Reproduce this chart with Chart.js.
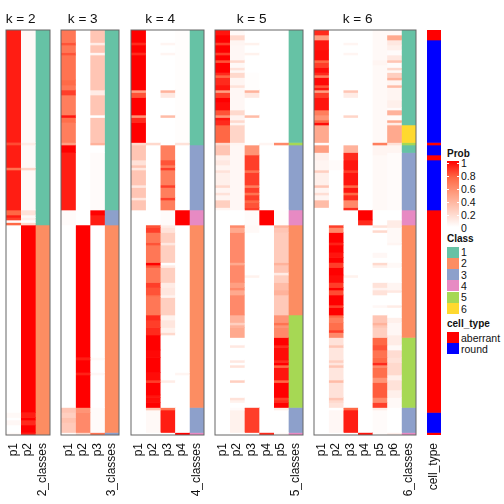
<!DOCTYPE html>
<html>
<head>
  <title>Class membership heatmaps</title>
  <script src="https://cdn.jsdelivr.net/npm/chart.js"></script>
  <style>
    body { margin: 0; background: #fff; font-family: 'Liberation Sans', Arial, sans-serif; }
    canvas { position: absolute; top: 0; }
    .lg { position: absolute; color: #111; font-size: 10.5px; line-height: 12px; white-space: nowrap; }
    .lg.head { font-weight: bold; font-size: 10px; }
    .sw { position: absolute; left: 447px; width: 12px; height: 11px; }
    #bar { position: absolute; left: 447px; top: 161px; width: 12px; height: 66px;
      background: linear-gradient(#ff0000, #ff6845 25%, #ff9f82 50%, #ffcfc0 75%, #ffffff); }
    .tk { position: absolute; height: 1px; width: 2px; background: #fff; }
  </style>
</head>
<body>
  <canvas id="c2"></canvas>
  <canvas id="c3"></canvas>
  <canvas id="c4"></canvas>
  <canvas id="c5"></canvas>
  <canvas id="c6"></canvas>
  <canvas id="c7"></canvas>
  <div id="legend"></div>

  <script>
    // every column is a list of [first row, value]; a run lasts until the next entry
    const rowCount = 162;

    const k2p1 = [[0,.93],[45,.82],[46,.93],[55,.7],[56,.93],[72,.75],[74,.93],[75,.85],[76,.03],[77,.75],[78,0],[153,.03],[155,0],[156,.04],[158,0],[161,.03]];
    const k2p2 = [[0,.03],[45,.1],[46,.03],[55,.22],[56,.03],[72,.15],[74,.03],[75,.08],[76,0],[77,.2],[78,1],[153,.93],[155,1],[156,.9],[158,1],[161,.93]];
    const k2classes = [[0,1],[78,2]];

    const k3p1 = [[0,.68],[5,.8],[6,.68],[9,.8],[10,.7],[20,.74],[22,.68],[24,.85],[26,.65],[34,.95],[35,.72],[37,.65],[45,.5],[46,1],[49,.93],[72,.02],[78,0],[151,.3],[153,.25],[155,.32],[157,.28],[161,.02]];
    const k3p2 = [[0,0],[78,1],[131,.93],[132,1],[137,.92],[138,1],[151,.55],[153,.6],[161,.2]];
    const k3p3 = [[0,.3],[5,.1],[6,.3],[9,.05],[10,.3],[24,.1],[26,.3],[34,0],[35,.3],[45,.4],[46,0],[49,.02],[72,1],[74,.93],[78,0],[131,.03],[132,0],[137,.04],[138,0],[151,.02],[161,.7]];
    const k3classes = [[0,1],[72,3],[78,2],[161,3]];

    const k4p1 = [[0,1],[5,.9],[6,1],[9,.9],[10,1],[24,.5],[25,.8],[27,1],[34,.55],[35,.9],[37,1],[45,.2],[46,.3],[52,.15],[54,.3],[55,.12],[56,.3],[62,.12],[63,.3],[67,.12],[68,.3],[72,0]];
    const k4p2 = [[0,0],[45,.2],[46,0],[78,.8],[79,.85],[81,.68],[85,.8],[86,.68],[93,1],[94,.8],[95,.68],[101,.85],[103,.8],[106,.7],[107,.68],[114,.9],[116,.85],[119,.9],[122,1],[128,.98],[131,1],[137,.97],[140,.85],[141,1],[146,.95],[147,.97],[149,1],[151,.3],[152,.03],[161,0]];
    const k4p3 = [[0,0],[5,.05],[6,0],[9,.05],[10,0],[24,.4],[25,.12],[27,0],[34,.35],[35,0],[46,.65],[52,.8],[54,.65],[55,.85],[56,.65],[62,.85],[63,.65],[67,.85],[68,.65],[72,.02],[78,.1],[79,.15],[81,.25],[85,.12],[86,.25],[93,0],[94,.1],[95,.25],[101,.1],[103,.13],[106,.06],[107,.25],[114,.07],[116,.13],[119,.07],[121,.2],[122,0],[140,.1],[141,0],[151,.7],[152,.93],[161,0]];
    const k4p4 = [[0,.01],[45,.15],[46,0],[72,1],[78,0],[137,.05],[138,0],[161,1]];
    const k4classes = [[0,1],[46,3],[72,4],[78,2],[151,3],[161,4]];

    const k5p1 = [[0,.95],[2,1],[5,.85],[6,1],[9,.85],[10,1],[12,.8],[13,1],[17,.9],[18,.75],[19,.9],[22,.95],[24,.5],[25,.85],[27,1],[29,.97],[32,.8],[34,.55],[35,.95],[36,.9],[38,.75],[45,.2],[46,.3],[50,.08],[52,.12],[54,.05],[56,.15],[57,.08],[62,.2],[63,.05],[65,.15],[66,.05],[68,.25],[71,.05],[72,0]];
    const k5p2 = [[0,.03],[2,.2],[4,.05],[6,.04],[12,.2],[13,.03],[15,.15],[16,.04],[17,.2],[19,.05],[22,.15],[23,.04],[32,.2],[34,.06],[36,.2],[37,.05],[38,.22],[45,.05],[46,.04],[72,0],[78,.6],[79,.45],[81,.6],[93,.45],[94,.6],[101,.5],[103,.6],[104,.45],[106,.6],[114,.4],[117,.25],[118,.4],[119,.45],[123,0],[126,.12],[127,0],[132,.12],[133,0],[134,.15],[135,0],[140,.25],[141,0],[147,.15],[148,.07],[149,0],[151,.02],[152,.07],[161,0]];
    const k5p3 = [[0,0],[5,.07],[6,0],[9,.07],[10,0],[17,.01],[24,.4],[25,.12],[27,0],[34,.35],[35,0],[46,.55],[50,.85],[56,.7],[57,.85],[62,.65],[63,.85],[65,.7],[66,.85],[68,.75],[69,.8],[71,.85],[72,.02],[78,.03],[81,0],[98,.07],[99,0],[151,.85],[161,0]];
    const k5p4 = [[0,0],[45,.05],[46,0],[72,1],[78,0],[161,.9]];
    const k5p5 = [[0,0],[45,.6],[46,0],[72,.01],[78,.4],[79,.3],[81,.27],[93,.4],[94,.3],[97,.1],[98,.25],[101,.35],[104,.4],[106,.28],[114,.55],[117,.7],[118,.55],[119,.6],[123,1],[126,.9],[127,.97],[132,.9],[133,1],[134,.75],[135,.95],[140,.75],[141,1],[147,.85],[148,.9],[149,1],[151,.1],[152,0],[161,.03]];
    const k5classes = [[0,1],[45,5],[46,3],[72,4],[78,2],[114,5],[151,3],[161,4]];

    const k6p1 = [[0,.9],[2,.5],[4,.95],[8,.97],[12,.75],[13,.85],[15,.97],[17,.9],[18,.65],[19,.98],[22,.8],[23,.95],[24,.5],[25,.85],[27,.95],[32,.65],[34,.55],[36,.75],[37,.97],[38,.45],[45,.02],[46,.5],[49,.08],[52,.05],[56,.25],[57,.08],[62,.3],[63,.05],[65,.17],[66,.05],[68,.35],[71,0]];
    const k6p2 = [[0,0],[52,.02],[56,0],[78,.85],[79,.6],[81,1],[85,.92],[86,1],[89,.95],[91,1],[93,.85],[95,1],[98,.97],[101,.85],[103,1],[104,.82],[106,1],[110,.85],[111,1],[114,.75],[115,.65],[117,.72],[120,.85],[121,.6],[123,.15],[126,.3],[127,.13],[132,.25],[133,.13],[134,.3],[135,.13],[140,.35],[141,.15],[147,.3],[148,.2],[149,.15],[151,0],[152,.04],[161,0]];
    const k6p3 = [[0,0],[5,.05],[6,0],[9,.05],[10,0],[24,.3],[25,.1],[27,0],[34,.22],[35,0],[46,.4],[49,.9],[52,.95],[56,.85],[57,.95],[62,.75],[63,.95],[65,.75],[66,.9],[68,.6],[71,.9],[72,0],[98,.07],[99,0],[151,.75],[152,.93],[161,0]];
    const k6p4 = [[0,0],[72,1],[76,.9],[78,0],[161,.95]];
    const k6p5 = [[0,.03],[12,.05],[14,.03],[45,.65],[46,.05],[50,.03],[72,0],[78,.15],[79,0],[80,.2],[81,0],[89,.04],[91,0],[93,.2],[94,.08],[95,0],[101,.15],[103,.06],[104,.15],[106,0],[110,.04],[111,0],[114,.3],[117,.4],[118,.3],[119,.25],[123,.75],[126,.8],[128,.7],[131,.75],[133,.9],[134,.6],[135,.72],[139,.55],[141,.78],[147,.6],[149,.85],[151,.1],[152,.02]];
    const k6p6 = [[0,.03],[2,.45],[4,.12],[6,.08],[8,.02],[10,.12],[12,.3],[13,.02],[15,.2],[16,.03],[17,.25],[19,.4],[20,.05],[22,.35],[23,.05],[28,.08],[31,.02],[32,.4],[34,.02],[36,.45],[37,.1],[38,.45],[45,.15],[46,.05],[49,.02],[72,0],[76,.1],[78,.1],[79,.03],[85,.05],[86,0],[93,.03],[95,0],[101,.05],[104,.12],[105,0],[110,.1],[111,0],[115,.08],[117,.04],[122,.1],[126,.03],[128,.18],[131,.15],[133,.2],[138,.08],[140,.15],[144,.08],[147,.03],[151,0],[161,.08]];
    const k6classes = [[0,1],[38,6],[45,5],[46,1],[49,3],[72,4],[78,2],[123,5],[151,3],[161,4]];

    const cellType = [[0,'aberrant'],[4,'round'],[45,'aberrant'],[46,'round'],[50,'aberrant'],[52,'round'],[72,'aberrant'],[153,'round'],[161,'aberrant']];

    const classColors = { 1: '#66c2a5', 2: '#fc8d62', 3: '#8da0cb', 4: '#e78ac3', 5: '#a6d854', 6: '#ffd92f' };
    const typeColors = { aberrant: '#ff0000', round: '#0000ff' };
    const probStops = [[255,255,255],[255,207,192],[255,159,130],[255,104,69],[255,0,0]];
    const probTicks = ['1','0.8','0.6','0.4','0.2','0'];
    const classNames = ['1','2','3','4','5','6'];
    const typeNames = ['aberrant','round'];

    function probColor(v) {
      const t = v * (probStops.length - 1);
      const i = Math.min(Math.floor(t), probStops.length - 2);
      const f = t - i;
      const c = probStops[i].map((a, n) => Math.round(a + (probStops[i + 1][n] - a) * f));
      return `rgb(${c[0]},${c[1]},${c[2]})`;
    }

    const frame = {
      id: 'frame',
      afterDatasetsDraw(chart, args, opts) {
        if (!opts.on) return;
        const a = chart.chartArea, ctx = chart.ctx;
        ctx.save();
        ctx.strokeStyle = '#666';
        ctx.lineWidth = 1;
        ctx.strokeRect(a.left, a.top, a.width, a.height);
        ctx.restore();
      },
      afterDraw(chart, args, opts) {
        if (!opts.title) return;
        const a = chart.chartArea, ctx = chart.ctx;
        const last = chart.data.labels.length - 1;
        const colW = a.width / chart.data.labels.length;
        ctx.save();
        ctx.fillStyle = '#111';
        ctx.font = "13.6px 'Liberation Sans'";
        ctx.textAlign = 'center';
        ctx.textBaseline = 'alphabetic';
        ctx.fillText(opts.title, a.left + colW * last / 2, 23);
        ctx.restore();
      }
    };

    function draw(id, left, width, title, labels, cols, colors) {
      const datasets = [];
      cols.forEach((runs, col) => {
        const paint = colors[col];
        runs.forEach((run, r) => {
          const end = r + 1 < runs.length ? runs[r + 1][0] : rowCount;
          datasets.push({
            data: labels.map((l, i) => i === col ? [run[0], end] : null),
            backgroundColor: paint(run[1]),
            grouped: false,
            barPercentage: 1,
            categoryPercentage: 1
          });
        });
      });
      const el = document.getElementById(id);
      el.style.left = (left - 3) + 'px';
      el.width = width + 6;
      el.height = 504;
      new Chart(el, {
        type: 'bar',
        data: { labels, datasets },
        plugins: [frame],
        options: {
          responsive: false,
          animation: false,
          layout: { padding: { left: 3, right: 3, top: 30, bottom: 0 } },
          plugins: {
            legend: { display: false },
            tooltip: { enabled: false },
            frame: { on: !!title, title }
          },
          scales: {
            y: { display: false, reverse: true, min: 0, max: rowCount },
            x: {
              afterFit: s => { s.height = 69; s.paddingLeft = 0; s.paddingRight = 0; },
              grid: { display: false },
              border: { display: false },
              ticks: {
                autoSkip: false, minRotation: 90, maxRotation: 90, padding: 0,
                color: '#111', font: { family: "'Liberation Sans'", size: 12 }
              }
            }
          }
        }
      });
    }

    const classPaint = v => classColors[v];
    const panels = [
      ['c2', 6, 44, 'k = 2', ['p1','p2','2_classes'], [k2p1,k2p2,k2classes]],
      ['c3', 61, 58, 'k = 3', ['p1','p2','p3','3_classes'], [k3p1,k3p2,k3p3,k3classes]],
      ['c4', 131, 73, 'k = 4', ['p1','p2','p3','p4','4_classes'], [k4p1,k4p2,k4p3,k4p4,k4classes]],
      ['c5', 215, 88, 'k = 5', ['p1','p2','p3','p4','p5','5_classes'], [k5p1,k5p2,k5p3,k5p4,k5p5,k5classes]],
      ['c6', 314, 102, 'k = 6', ['p1','p2','p3','p4','p5','p6','6_classes'], [k6p1,k6p2,k6p3,k6p4,k6p5,k6p6,k6classes]]
    ];
    panels.forEach(p => {
      const colors = p[5].map((c, i) => i === p[5].length - 1 ? classPaint : probColor);
      draw(p[0], p[1], p[2], p[3], p[4], p[5], colors);
    });
    draw('c7', 427, 14, '', ['cell_type'], [cellType], [v => typeColors[v]]);

    // legends at the right
    const lg = document.getElementById('legend');
    function text(str, x, y, head) {
      const d = document.createElement('div');
      d.className = head ? 'lg head' : 'lg';
      d.textContent = str;
      d.style.left = x + 'px';
      d.style.top = (y - 6) + 'px';
      lg.appendChild(d);
    }
    function swatch(color, y) {
      const d = document.createElement('div');
      d.className = 'sw';
      d.style.background = color;
      d.style.top = y + 'px';
      lg.appendChild(d);
    }
    text('Prob', 447, 153.5, true);
    const bar = document.createElement('div');
    bar.id = 'bar';
    lg.appendChild(bar);
    probTicks.forEach((t, i) => {
      const y = 162.5 + i * 13;
      text(t, 461, y);
      [447, 457].forEach(x => {
        const m = document.createElement('div');
        m.className = 'tk';
        m.style.left = x + 'px';
        m.style.top = Math.round(y) + 'px';
        lg.appendChild(m);
      });
    });
    text('Class', 447, 239, true);
    classNames.forEach((n, i) => {
      swatch(classColors[n], 246.5 + i * 11.3);
      text(n, 461, 252 + i * 11.3);
    });
    text('cell_type', 447, 324, true);
    typeNames.forEach((n, i) => {
      swatch(typeColors[n], 332 + i * 11);
      text(n, 461, 337.5 + i * 11);
    });
  </script>
</body>
</html>
